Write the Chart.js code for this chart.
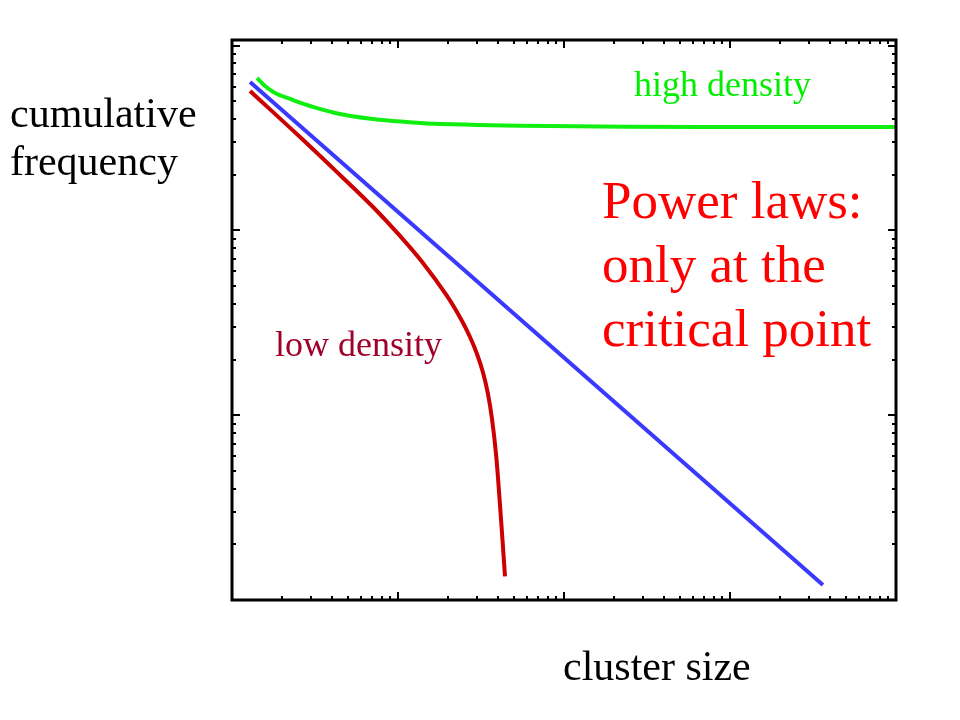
<!DOCTYPE html>
<html>
<head>
<meta charset="utf-8">
<script src="https://cdn.jsdelivr.net/npm/chart.js@4.4.1/dist/chart.umd.min.js"></script>
<style>
    body { margin: 0; background: #fff; }
    #wrap { position: relative; width: 960px; height: 720px; }
    #wrap canvas { position: absolute; left: 0; top: 0; }
    .lbl { position: absolute; font-family: "Liberation Serif", "Times New Roman", serif; white-space: nowrap; }
</style>
</head>
<body>
<div id="wrap">
    <canvas id="chart" width="960" height="720"></canvas>
    <div class="lbl" style="left:10px; top:89px; font-size:42px; line-height:48px; color:#000;">cumulative<br>frequency</div>
    <div class="lbl" style="left:563px; top:642px; font-size:42px; line-height:48px; color:#000;">cluster size</div>
    <div class="lbl" style="left:634px; top:64px; font-size:36px; line-height:40px; color:#00ee00;">high density</div>
    <div class="lbl" style="left:275px; top:324px; font-size:36px; line-height:40px; color:#a0002a;">low density</div>
    <div class="lbl" style="left:602px; top:168px; font-size:53px; line-height:64px; color:#ff0000;">Power laws:<br>only at the<br>critical point</div>
</div>
<script>
// axis ranges (log-log)
const xRange = [1, 10000];
const yRange = [0.001, 1.072];
const xDecades = [1, 10, 100, 1000, 10000];
const yDecades = [0.001, 0.01, 0.1, 1];
const minorSteps = [2, 3, 4, 5, 6, 7, 8, 9];

// curves
const highX = [1.414, 1.580, 1.816, 2.236, 2.951, 4.47, 7.07, 11.33, 17.9, 82.4, 659, 10000];
const highY = [0.668, 0.6046, 0.554, 0.514, 0.4712, 0.4265, 0.4006, 0.3859, 0.3765, 0.367, 0.3626, 0.3626];

const criticalX = [1.284, 3631];
const criticalY = [0.635, 0.001206];

const lowX = [1.284, 2.568, 4.47, 7.07, 10.28, 14.14, 19.73, 24.30, 27.15, 29.92, 32.51, 34.85, 36.84, 38.94, 41.16, 44.12];
const lowY = [0.568, 0.320, 0.1995, 0.1338, 0.0933, 0.0666, 0.04416, 0.03234, 0.02649, 0.02145, 0.01703, 0.01302, 0.009537, 0.006166, 0.003267, 0.001341];

function toPoints(xs, ys) {
    return xs.map((x, i) => ({ x: x, y: ys[i] }));
}

// frame + inward ticks on all four sides
const framePlugin = {
    id: 'frame',
    afterDraw(chart) {
        const ctx = chart.ctx;
        const a = chart.chartArea;
        const xs = chart.scales.x;
        const ys = chart.scales.y;
        ctx.save();
        ctx.strokeStyle = '#000';
        ctx.lineWidth = 2;

        const xTicks = [];
        const yTicks = [];
        xDecades.forEach(d => {
            xTicks.push({ v: d, major: true });
            minorSteps.forEach(m => xTicks.push({ v: d * m, major: false }));
        });
        yDecades.forEach(d => {
            yTicks.push({ v: d, major: true });
            minorSteps.forEach(m => yTicks.push({ v: d * m, major: false }));
        });

        ctx.beginPath();
        xTicks.forEach(t => {
            if (t.v <= xRange[0] || t.v >= xRange[1]) return;
            const px = Math.round(xs.getPixelForValue(t.v));
            const len = t.major ? 8 : 4;
            ctx.moveTo(px, a.bottom); ctx.lineTo(px, a.bottom - len);
            ctx.moveTo(px, a.top); ctx.lineTo(px, a.top + len);
        });
        yTicks.forEach(t => {
            if (t.v <= yRange[0] || t.v >= yRange[1]) return;
            const py = Math.round(ys.getPixelForValue(t.v));
            const len = t.major ? 8 : 4;
            ctx.moveTo(a.left, py); ctx.lineTo(a.left + len, py);
            ctx.moveTo(a.right, py); ctx.lineTo(a.right - len, py);
        });
        ctx.stroke();

        ctx.lineWidth = 3;
        ctx.strokeRect(a.left, a.top, a.right - a.left, a.bottom - a.top);
        ctx.restore();
    }
};

const lineStyle = {
    borderWidth: 4,
    pointRadius: 0,
    fill: false,
    tension: 0.4,
    borderCapStyle: 'butt'
};

new Chart(document.getElementById('chart'), {
    type: 'line',
    data: {
        datasets: [
            Object.assign({ label: 'high density', data: toPoints(highX, highY), borderColor: '#11ee11' }, lineStyle),
            Object.assign({ label: 'critical point', data: toPoints(criticalX, criticalY), borderColor: '#3a3aff' }, lineStyle),
            Object.assign({ label: 'low density', data: toPoints(lowX, lowY), borderColor: '#cc0000' }, lineStyle)
        ]
    },
    options: {
        responsive: false,
        animation: false,
        layout: { padding: { left: 232, top: 40, right: 64, bottom: 120 } },
        plugins: {
            legend: { display: false },
            tooltip: { enabled: false }
        },
        scales: {
            x: { type: 'logarithmic', min: xRange[0], max: xRange[1], display: false },
            y: { type: 'logarithmic', min: yRange[0], max: yRange[1], display: false }
        }
    },
    plugins: [framePlugin]
});
</script>
</body>
</html>
